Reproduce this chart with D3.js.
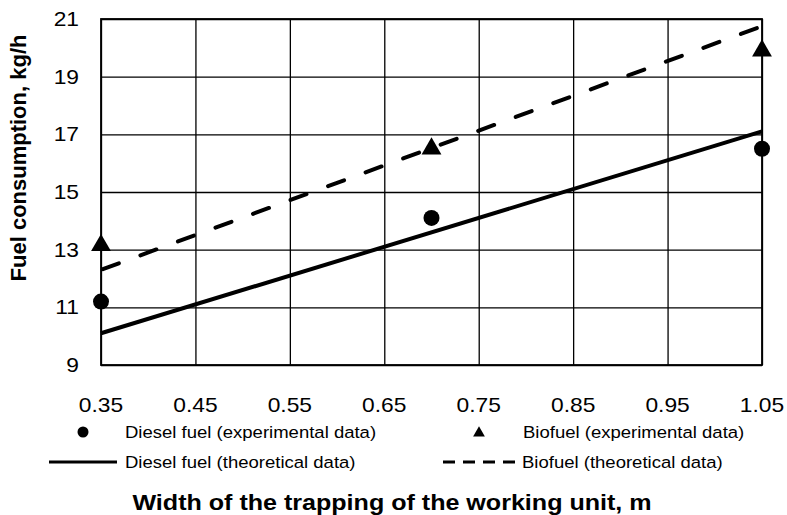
<!DOCTYPE html>
<html>
<head>
<meta charset="utf-8">
<script src="https://cdn.jsdelivr.net/npm/d3@7"></script>
<style>
  body { margin: 0; background: #fff; }
  text { font-family: "Liberation Sans", Arial, sans-serif; fill: #000; }
</style>
</head>
<body>
<svg id="chart" width="787" height="515"></svg>
<script>
// experimental points
const widths = [0.35, 0.70, 1.05];
const dieselExp = [11.2, 14.1, 16.5];
const bioExp = [13.25, 16.6, 20.0];

// theoretical lines (end points)
const thWidths = [0.35, 1.05];
const dieselTheory = [10.1, 17.1];
const bioTheory = [12.3, 20.75];

const xTicks = [0.35, 0.45, 0.55, 0.65, 0.75, 0.85, 0.95, 1.05];
const yTicks = [9, 11, 13, 15, 17, 19, 21];

const legendItems = ['Diesel fuel (experimental data)', 'Biofuel (experimental data)',
  'Diesel fuel (theoretical data)', 'Biofuel (theoretical data)'];

const margin = {top: 19, right: 25, bottom: 150, left: 101};
const svg = d3.select('#chart');
const width = +svg.attr('width') - margin.left - margin.right;
const height = +svg.attr('height') - margin.top - margin.bottom;

const x = d3.scaleLinear().domain([0.35, 1.05]).range([0, width]);
const y = d3.scaleLinear().domain([9, 21]).range([height, 0]);

// the original picture is a bit wider than tall, so stretch the text sideways
function stretched(sel, tx, ty, sx) {
  return sel.attr('transform', (d, i) => 'translate(' + tx(d, i) + ',' + ty(d, i) + ') scale(' + sx + ',1)');
}

const g = svg.append('g')
  .attr('transform', 'translate(' + margin.left + ',' + margin.top + ')');

// grid
g.append('g')
  .call(d3.axisBottom(x).tickValues(xTicks).tickSize(-height).tickFormat(''))
  .attr('transform', 'translate(0,' + height + ')')
  .call(a => a.select('.domain').remove())
  .selectAll('line').attr('stroke', '#000').attr('stroke-width', 1.3);
g.append('g')
  .call(d3.axisLeft(y).tickValues(yTicks).tickSize(-width).tickFormat(''))
  .call(a => a.select('.domain').remove())
  .selectAll('line').attr('stroke', '#000').attr('stroke-width', 1.3);

g.append('rect')
  .attr('width', width).attr('height', height)
  .attr('fill', 'none').attr('stroke', '#000').attr('stroke-width', 1.8);

// tick labels
g.append('g').selectAll('text')
  .data(yTicks).enter().append('text')
  .call(s => stretched(s, () => -22, d => y(d), 1.14))
  .attr('dy', '0.35em')
  .attr('text-anchor', 'end').style('font-size', '20px')
  .text(d => d);
g.append('g').selectAll('text')
  .data(xTicks).enter().append('text')
  .call(s => stretched(s, d => x(d), () => height + 47, 1.14))
  .attr('text-anchor', 'middle').style('font-size', '20px')
  .text(d => d.toFixed(2));

// theoretical lines
const line = d3.line().x(d => x(d[0])).y(d => y(d[1]));
g.append('path')
  .datum(thWidths.map((w, i) => [w, dieselTheory[i]]))
  .attr('d', line).attr('fill', 'none').attr('stroke', '#000').attr('stroke-width', 4);
g.append('path')
  .datum(thWidths.map((w, i) => [w, bioTheory[i]]))
  .attr('d', line).attr('fill', 'none').attr('stroke', '#000').attr('stroke-width', 4)
  .attr('stroke-linecap', 'round').attr('stroke-dasharray', '17,23')
  .attr('stroke-dashoffset', -2);

// experimental points
g.selectAll('.dot')
  .data(widths.map((w, i) => [w, dieselExp[i]]))
  .enter().append('circle')
  .attr('cx', d => x(d[0])).attr('cy', d => y(d[1])).attr('r', 8).attr('fill', '#000');

const tri = d3.symbol().type(d3.symbolTriangle).size(170);
const triShift = Math.sqrt(170 / (Math.sqrt(3) * 3)) / 2;
g.selectAll('.tri')
  .data(widths.map((w, i) => [w, bioExp[i]]))
  .enter().append('path')
  .attr('d', tri)
  .attr('transform', d => 'translate(' + x(d[0]) + ',' + (y(d[1]) + triShift) + ')')
  .attr('fill', '#000');

// legend
const leg = svg.append('g');
leg.append('circle').attr('cx', 83).attr('cy', 432).attr('r', 5.5);
leg.append('path').attr('d', d3.symbol().type(d3.symbolTriangle).size(60))
  .attr('transform', 'translate(479,433)');
leg.append('line').attr('x1', 49).attr('x2', 117).attr('y1', 462).attr('y2', 462)
  .attr('stroke', '#000').attr('stroke-width', 3);
leg.append('line').attr('x1', 443).attr('x2', 515).attr('y1', 462).attr('y2', 462)
  .attr('stroke', '#000').attr('stroke-width', 3).attr('stroke-dasharray', '12,8');
const legPos = [[125, 432], [523, 432], [125, 462], [522, 462]];
leg.selectAll('text').data(legendItems).enter().append('text')
  .call(s => stretched(s, (d, i) => legPos[i][0], (d, i) => legPos[i][1], 1.09))
  .attr('dy', '0.35em').style('font-size', '17px')
  .text(d => d);

// axis titles
svg.append('text').datum(0)
  .call(s => stretched(s, () => 392, () => 510, 1.14))
  .attr('text-anchor', 'middle')
  .style('font-size', '22px').style('font-weight', 'bold')
  .text('Width of the trapping of the working unit, m');
svg.append('text')
  .attr('transform', 'translate(26,158) rotate(-90)')
  .attr('text-anchor', 'middle')
  .style('font-size', '22px').style('font-weight', 'bold')
  .text('Fuel consumption, kg/h');
</script>
</body>
</html>
